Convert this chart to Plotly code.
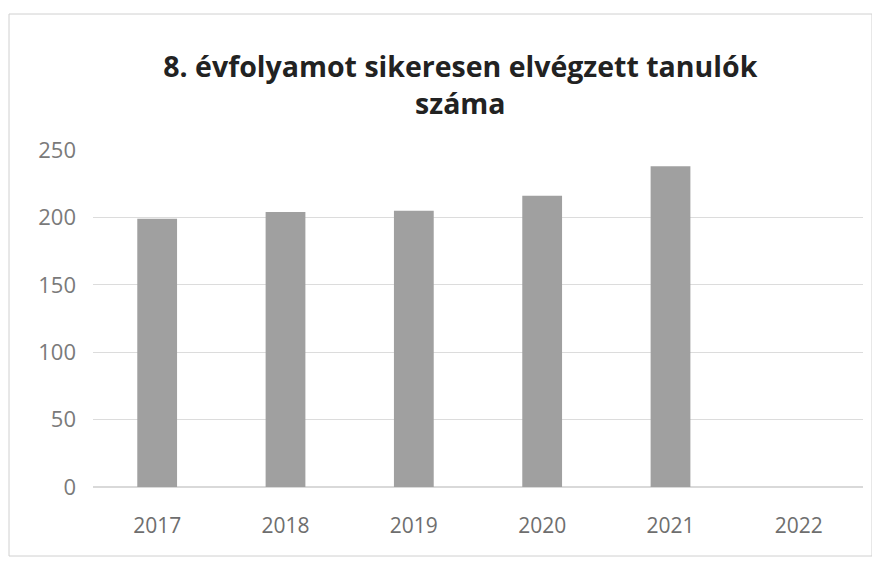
import plotly.graph_objects as go

years = ["2017", "2018", "2019", "2020", "2021", "2022"]
values = [199, 204, 205, 216, 238, None]
y_ticks = [0, 50, 100, 150, 200, 250]

W, H = 880, 561
L, R, T, B = 85, 25, 142, 82

fig = go.Figure(go.Bar(
    x=years, y=values,
    marker=dict(color="#a0a0a0", line=dict(width=0)),
))

pw = W - L - R
ph = H - T - B
def px_x(p):
    return (p - L) / pw
def px_y(p):
    return (H - B - p) / ph

fig.update_layout(
    width=W, height=H,
    margin=dict(l=L, r=R, t=T, b=B),
    paper_bgcolor="white", plot_bgcolor="white",
    bargap=0.69,
    showlegend=False,
    title=dict(
        text="8. évfolyamot sikeresen elvégzett tanulók<br>száma",
        x=0.514, xanchor="center", y=0.877, yanchor="middle",
        font=dict(family="Open Sans", size=28.5, color="#222222", weight="bold"),
    ),
    xaxis=dict(
        type="category",
        tickfont=dict(family="Open Sans", size=21, color="#6e6e6e"),
        showgrid=False, showline=True, linecolor="#d9d9d9", linewidth=1,
        ticks="", ticklabelstandoff=20,
    ),
    yaxis=dict(
        range=[0, 250], tickvals=y_ticks,
        tickfont=dict(family="Open Sans", size=22, color="#7a7a7a"),
        showgrid=True, gridcolor="#dcdcdc", gridwidth=1,
        zeroline=True, zerolinecolor="#d9d9d9",
        showline=False, ticks="", ticklabelstandoff=16,
    ),
    shapes=[dict(
        type="rect", xref="paper", yref="paper",
        x0=px_x(1), x1=px_x(864), y0=px_y(548), y1=px_y(6),
        line=dict(color="#d0d0d0", width=1), fillcolor="rgba(0,0,0,0)",
        layer="below",
    )],
)

fig.write_html("out.html")
